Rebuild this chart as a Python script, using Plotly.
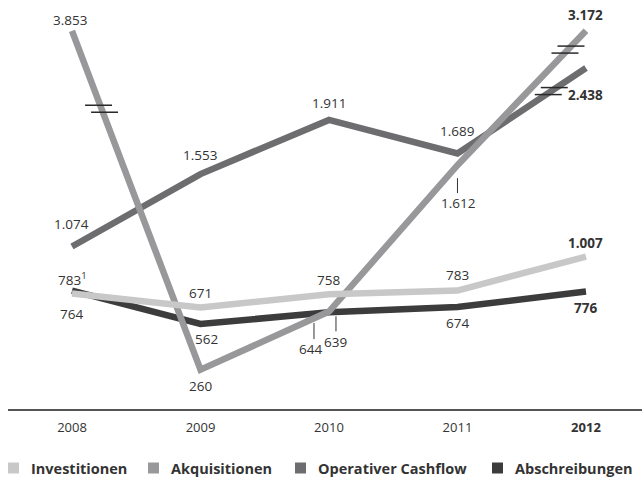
import plotly.graph_objects as go

# ---------------- data ----------------
years = [2008, 2009, 2010, 2011, 2012]
year_labels = ["2008", "2009", "2010", "2011", "<b>2012</b>"]
investitionen = [764, 671, 758, 783, 1007]
akquisitionen = [3853, 260, 644, 1612, 3172]
operativer_cashflow = [1074, 1553, 1911, 1689, 2438]
abschreibungen = [783, 562, 639, 674, 776]
footnote_marks = {("Abschreibungen", 0): "1"}

series = [
    ("Operativer Cashflow", operativer_cashflow),
    ("Abschreibungen", abschreibungen),
    ("Akquisitionen", akquisitionen),
    ("Investitionen", investitionen),
]
legend_order = ["Investitionen", "Akquisitionen", "Operativer Cashflow", "Abschreibungen"]

# ---------------- style ----------------
colors = {
    "Investitionen": "#c8c8c8",
    "Akquisitionen": "#98989b",
    "Operativer Cashflow": "#6d6d70",
    "Abschreibungen": "#3c3c3c",
}
TEXT = "#333333"
FONT = "Open Sans"

W, H = 642, 477
ML, MR, MT, MB = 8, 0, 0, 68
PW, PH = W - ML - MR, H - MT - MB

# broken value axis: values above BREAK_START are compressed / capped
BREAK_START = 2000
BREAK_SCALE = 0.58
BREAK_CAP = 500


def shown(v):
    if v <= BREAK_START:
        return v
    return BREAK_START + min((v - BREAK_START) * BREAK_SCALE, BREAK_CAP)


def fmt(v):
    return f"{v:,}".replace(",", ".")


def px_x(px):
    return (px - ML) / PW


def px_y(py):
    return (H - MB - py) / PH


# label offsets in pixels (xshift, yshift) per series/point
label_offsets = {
    "Investitionen": [(0, -21), (0, 14), (0, 14), (0, 16), (0, 14)],
    "Akquisitionen": [(-2, 11), (0, -16), (-18, -37), (1, -38), (0, 16)],
    "Operativer Cashflow": [(0, 23), (0, 19), (0, 17), (0, 22), (0, -27)],
    "Abschreibungen": [(1, 12), (6, -15), (7, -30), (0, -16), (0, -16)],
}
# leader ticks: (series, index, x offset px, y0 px, y1 px)
leaders = [
    ("Akquisitionen", 2, -15, -11.5, -27.5),
    ("Abschreibungen", 2, 7, -4, -19),
    ("Akquisitionen", 3, 0, -13, -28),
]
# axis-break marks: (series, segment start index, fraction along segment)
break_marks = [
    ("Akquisitionen", 0, 0.23),
    ("Akquisitionen", 3, 0.86),
    ("Operativer Cashflow", 3, 0.73),
]
# legend layout (pixel left edge of each square), row centre
legend_left = [8, 148, 295, 492]
LEGEND_Y = 468
SQ = 11
TEXT_GAP = 10

data_by_name = dict(series)

fig = go.Figure()
for name, vals in series:
    fig.add_trace(go.Scatter(
        x=years, y=[shown(v) for v in vals], mode="lines",
        line=dict(color=colors[name], width=6.5),
        showlegend=False, hoverinfo="skip", name=name,
    ))

annotations = []
for name, vals in series:
    for i, (yr, v) in enumerate(zip(years, vals)):
        txt = fmt(v)
        if (name, i) in footnote_marks:
            txt += "<sup>" + footnote_marks[(name, i)] + "</sup>"
        if i == len(years) - 1:
            txt = "<b>" + txt + "</b>"
        dx, dy = label_offsets[name][i]
        annotations.append(dict(
            x=yr, y=shown(v), text=txt, showarrow=False,
            xanchor="center", yanchor="middle", xshift=dx, yshift=dy,
            font=dict(family=FONT, size=13.5, color=TEXT),
        ))

shapes = []
for name, i, dx, y0, y1 in leaders:
    shapes.append(dict(
        type="line", xref="x", yref="y",
        xsizemode="pixel", xanchor=years[i], x0=dx, x1=dx,
        ysizemode="pixel", yanchor=shown(data_by_name[name][i]), y0=y0, y1=y1,
        line=dict(color=TEXT, width=1),
    ))

for name, i, t in break_marks:
    vals = data_by_name[name]
    xa, xb = years[i], years[i + 1]
    ya, yb = shown(vals[i]), shown(vals[i + 1])
    xc = xa + t * (xb - xa)
    yc = ya + t * (yb - ya)
    rising = 1 if yb > ya else -1
    for side in (1, -1):  # upper, lower
        off = 3 * rising * side
        shapes.append(dict(
            type="line", xref="x", yref="y",
            xsizemode="pixel", xanchor=xc, x0=-13.5 + off, x1=13.5 + off,
            ysizemode="pixel", yanchor=yc, y0=3.5 * side, y1=3.5 * side,
            line=dict(color="#2a2a2a", width=1.5),
        ))

# legend drawn as squares + text
for name, left in zip(legend_order, legend_left):
    shapes.append(dict(
        type="rect", xref="paper", yref="paper",
        x0=px_x(left), x1=px_x(left + SQ),
        y0=px_y(LEGEND_Y + SQ / 2), y1=px_y(LEGEND_Y - SQ / 2),
        fillcolor=colors[name], line=dict(width=0),
    ))
    annotations.append(dict(
        xref="paper", yref="paper", x=px_x(left + SQ + TEXT_GAP), y=px_y(LEGEND_Y),
        text="<b>" + name + "</b>", showarrow=False,
        xanchor="left", yanchor="middle",
        font=dict(family=FONT, size=14.5, color=TEXT),
    ))

fig.update_layout(
    width=W, height=H,
    margin=dict(l=ML, r=MR, t=MT, b=MB),
    paper_bgcolor="white", plot_bgcolor="white",
    annotations=annotations, shapes=shapes,
    font=dict(family=FONT, color=TEXT),
    showlegend=False,
    xaxis=dict(
        range=[2007.502, 2012.436], tickvals=years, ticktext=year_labels,
        showgrid=False, zeroline=False, showline=True, linecolor="#555555",
        linewidth=1.5, ticks="", tickfont=dict(family=FONT, size=13, color=TEXT),
        ticklabelstandoff=6, fixedrange=True,
    ),
    yaxis=dict(
        range=[0, 2703.5], visible=False, showgrid=False, zeroline=False,
        fixedrange=True,
    ),
)

fig.write_html("out.html")
